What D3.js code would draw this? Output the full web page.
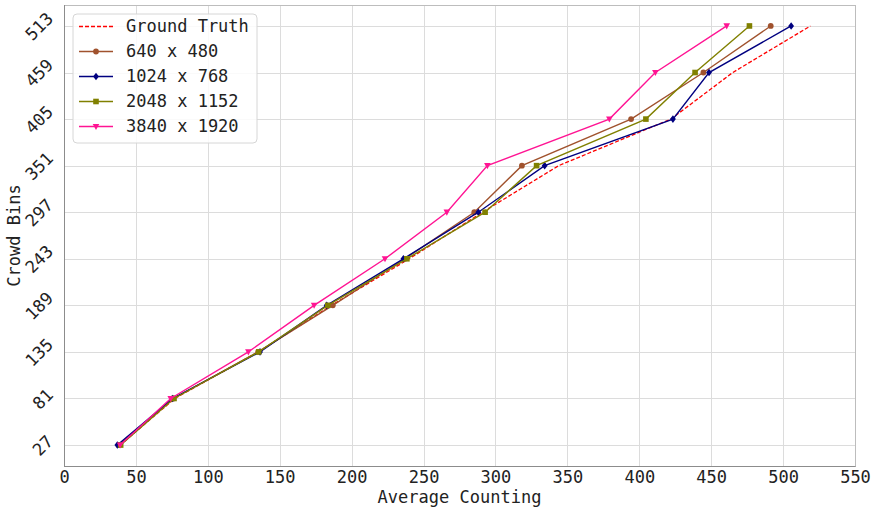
<!DOCTYPE html>
<html>
<head>
<meta charset="utf-8">
<script src="https://cdn.jsdelivr.net/npm/d3@7"></script>
<style>
  html, body { margin: 0; padding: 0; background: #fff; }
  svg { display: block; font-family: "DejaVu Sans Mono", monospace; }
</style>
</head>
<body>
<div id="chart"></div>
<script>
// crowd bins (y) and average counts per resolution (x)
const bins = [27, 81, 135, 189, 243, 297, 351, 405, 459, 513];
const groundTruth = [39, 77, 135, 186, 240, 291, 344, 422, 465, 519];
const res640 = [38, 76, 135, 186.9, 237, 285.3, 318.4, 394.3, 444.6, 491.4];
const res1024 = [37.1, 75.5, 136.3, 182.7, 236, 288.1, 334.2, 423.4, 448.5, 505.6];
const res2048 = [39.4, 76.5, 135.4, 183.4, 238.4, 292.8, 328.6, 404.6, 438.8, 476.6];
const res3840 = [39, 74.2, 128.2, 173.9, 223.2, 266.2, 294.4, 379.2, 411.2, 460.8];
const xTicks = [0, 50, 100, 150, 200, 250, 300, 350, 400, 450, 500, 550];

const W = 879, H = 507;
const m = { top: 5, right: 24, bottom: 41, left: 64 };

const series = [
  { name: 'Ground Truth', values: groundTruth, color: '#ff0000', dash: '4,2', marker: null, width: 1.3 },
  { name: '640 x 480', values: res640, color: '#a0522d', marker: 'circle', width: 1.4 },
  { name: '1024 x 768', values: res1024, color: '#000080', marker: 'diamond', width: 1.4 },
  { name: '2048 x 1152', values: res2048, color: '#808000', marker: 'square', width: 1.4 },
  { name: '3840 x 1920', values: res3840, color: '#ff1493', marker: 'triangle', width: 1.4 }
];

const x = d3.scaleLinear().domain([0, 550]).range([m.left, W - m.right]);
const yPad = (513 - 27) * 0.05;
const y = d3.scaleLinear().domain([27 - yPad, 513 + yPad]).range([H - m.bottom, m.top]);

const svg = d3.select('#chart').append('svg')
  .attr('width', W).attr('height', H);

// grid
const grid = svg.append('g').attr('stroke', '#dcdcdc').attr('stroke-width', 1);
grid.selectAll('line.gx').data(xTicks).join('line')
  .attr('x1', d => Math.round(x(d)) + 0.5).attr('x2', d => Math.round(x(d)) + 0.5)
  .attr('y1', m.top).attr('y2', H - m.bottom);
grid.selectAll('line.gy').data(bins).join('line')
  .attr('y1', d => Math.round(y(d)) + 0.5).attr('y2', d => Math.round(y(d)) + 0.5)
  .attr('x1', m.left).attr('x2', W - m.right);

// frame
svg.append('rect')
  .attr('x', m.left + 0.5).attr('y', m.top + 0.5)
  .attr('width', W - m.left - m.right).attr('height', H - m.top - m.bottom)
  .attr('fill', 'none').attr('stroke', '#bdbdbd');
svg.append('line')
  .attr('x1', m.left + 0.5).attr('x2', m.left + 0.5)
  .attr('y1', m.top).attr('y2', H - m.bottom + 0.5)
  .attr('stroke', '#8c8c8c');
svg.append('line')
  .attr('x1', m.left).attr('x2', W - m.right + 0.5)
  .attr('y1', H - m.bottom + 0.5).attr('y2', H - m.bottom + 0.5)
  .attr('stroke', '#8c8c8c');

// x axis
const xAxis = svg.append('g')
  .attr('transform', `translate(0,${H - m.bottom})`)
  .call(d3.axisBottom(x).tickValues(xTicks).tickSize(0).tickPadding(5));
xAxis.select('.domain').remove();
xAxis.selectAll('text').attr('font-size', 17).attr('fill', '#222')
  .attr('font-family', '"DejaVu Sans Mono", monospace');

// y axis, rotated labels
const yAxis = svg.append('g')
  .attr('transform', `translate(${m.left},0)`)
  .call(d3.axisLeft(y).tickValues(bins).tickSize(0).tickFormat(d3.format('d')));
yAxis.select('.domain').remove();
yAxis.selectAll('text')
  .attr('font-size', 17).attr('fill', '#222')
  .attr('font-family', '"DejaVu Sans Mono", monospace')
  .attr('text-anchor', 'middle').attr('dy', '0.35em')
  .each(function() {
    const t = d3.select(this);
    const w = this.getComputedTextLength();
    const bw = (w + 14) / Math.SQRT2;
    const cx = -9 - bw / 2;
    t.attr('x', cx).attr('transform', `rotate(-45,${cx},0)`);
  });

svg.append('text')
  .attr('x', (m.left + W - m.right) / 2).attr('y', 503)
  .attr('text-anchor', 'middle').attr('font-size', 17).attr('fill', '#222')
  .text('Average Counting');
svg.append('text')
  .attr('transform', `translate(20,${(m.top + H - m.bottom) / 2}) rotate(-90)`)
  .attr('text-anchor', 'middle').attr('font-size', 17).attr('fill', '#222')
  .text('Crowd Bins');

// markers
function drawMarker(g, type, color) {
  if (type === 'circle') {
    g.append('circle').attr('r', 2.9).attr('fill', color);
  } else if (type === 'diamond') {
    g.append('path').attr('d', 'M0,-3.8L2.9,0L0,3.8L-2.9,0Z').attr('fill', color);
  } else if (type === 'square') {
    g.append('rect').attr('x', -2.8).attr('y', -2.8).attr('width', 5.6).attr('height', 5.6).attr('fill', color);
  } else if (type === 'triangle') {
    g.append('path').attr('d', 'M-3.3,-2.6L3.3,-2.6L0,3.5Z').attr('fill', color);
  }
}

const line = d3.line().x(d => x(d[0])).y(d => y(d[1]));
const plot = svg.append('g');
series.forEach(s => {
  const pts = s.values.map((v, i) => [v, bins[i]]);
  plot.append('path').datum(pts)
    .attr('fill', 'none').attr('stroke', s.color)
    .attr('stroke-width', s.width)
    .attr('stroke-dasharray', s.dash || null)
    .attr('d', line);
  if (s.marker) {
    pts.forEach(p => {
      const g = plot.append('g').attr('transform', `translate(${x(p[0])},${y(p[1])})`);
      drawMarker(g, s.marker, s.color);
    });
  }
});

// legend
const lg = svg.append('g');
lg.append('rect')
  .attr('x', 73).attr('y', 14).attr('width', 184).attr('height', 129)
  .attr('rx', 4).attr('fill', '#fff').attr('fill-opacity', 0.85)
  .attr('stroke', '#d6d6d6');
series.forEach((s, i) => {
  const cy = 26.5 + i * 25;
  lg.append('line')
    .attr('x1', 79).attr('x2', 113).attr('y1', cy).attr('y2', cy)
    .attr('stroke', s.color).attr('stroke-width', s.width)
    .attr('stroke-dasharray', s.dash || null);
  if (s.marker) {
    const g = lg.append('g').attr('transform', `translate(96,${cy})`);
    drawMarker(g, s.marker, s.color);
  }
  lg.append('text')
    .attr('x', 126).attr('y', cy).attr('dy', '0.35em')
    .attr('font-size', 17).attr('fill', '#222')
    .text(s.name);
});
</script>
</body>
</html>
